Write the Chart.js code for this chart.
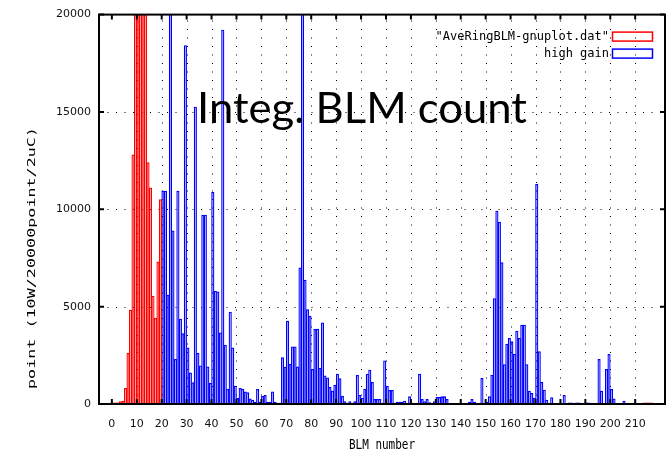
<!DOCTYPE html>
<html>
<head>
<meta charset="utf-8">
<title>Integ. BLM count</title>
<script src="https://cdn.jsdelivr.net/npm/chart.js@4.4.1/dist/chart.umd.min.js"></script>
<style>
  html, body { margin: 0; padding: 0; background: #fff; }
  canvas { display: block; }
</style>
</head>
<body>
<canvas id="blmChart" width="671" height="452"></canvas>
<script>
// Integrated BLM counts per BLM number
const redLabel = '"AveRingBLM-gnuplot.dat"';
const blueLabel = 'high gain';

// red file: BLM 0..19, plus the flat tail at the right end
const redStart = 0;
const redValues = [60, 60, 60, 120, 150, 800, 2600, 4820, 12800, 25000,
                   25000, 25000, 25000, 25000, 12400, 11100, 5540, 4400, 7300, 10500];
const redTailStart = 213;
const redTail = [60, 60, 60, 60];

// high gain: BLM 20..212
const blueStart = 20;
const blueValues = [
  10940, 10940, 5590, 25000, 8890, 2290, 10940, 4360, 3620, 18410,   // 20-29
  2890, 1600, 1100, 15250, 2600, 1960, 9700, 9700, 1915, 1060,       // 30-39
  10870, 5800, 5760, 3660, 19210, 3030, 750, 4720, 2890, 920,        // 40-49
  290, 800, 750, 630, 590, 260, 200, 100, 750, 100,                  // 50-59
  400, 450, 100, 100, 630, 100, 50, 50, 2390, 1900,                  // 60-69
  4260, 2050, 2940, 2940, 1915, 6990, 25000, 6360, 4850, 4520,       // 70-79
  1780, 3830, 3850, 1850, 4170, 1450, 1350, 855, 680, 970,           // 80-89
  1540, 1300, 410, 130, 30, 130, 30, 130, 1470, 440,                 // 90-99
  300, 770, 1540, 1740, 1110, 240, 240, 240, 50, 2220,               // 100-109
  920, 700, 700, 50, 100, 100, 100, 150, 40, 375,                    // 110-119
  50, 50, 50, 1540, 240, 120, 240, 70, 20, 120,                      // 120-129
  340, 340, 375, 375, 240, 30, 30, 30, 20, 20,                       // 130-139
  30, 30, 20, 100, 240, 100, 20, 20, 1320, 20,                       // 140-149
  100, 380, 1490, 5420, 9910, 9350, 7260, 2030, 3080, 3370,          // 150-159
  3200, 2550, 3740, 3370, 4050, 4050, 2030, 670, 550, 300,           // 160-169
  11280, 2690, 1110, 720, 200, 20, 330, 40, 40, 40,                  // 170-179
  40, 445, 40, 60, 60, 40, 60, 60, 40, 40,                           // 180-189
  60, 60, 40, 40, 40, 2290, 670, 40, 1780, 2550,                     // 190-199
  750, 270, 40, 40, 40, 150, 50, 20, 20, 20,                         // 200-209
  40, 40, 40                                                         // 210-212
];

const xMin = 0;
const xMax = 216.8;
const xStep = 10;
const yMin = 0;
const yMax = 20000;
const yStep = 5000;

const xTitle = 'BLM number';
const yTitle = 'point (10W/20000point/2uC)';
const overlayText = 'Integ. BLM count';

// gnuplot boxes span [n, n+1]
function toPoints(start, values) {
    return values.map((v, i) => ({ x: start + i + 0.5, y: v }));
}

const monoFont = '"DejaVu Sans Mono", monospace';

const gnuplotLook = {
    id: 'gnuplotLook',
    beforeDatasetsDraw(chart) {
        const { ctx, chartArea: a, scales: { x, y } } = chart;
        ctx.save();
        ctx.strokeStyle = '#000';
        ctx.lineWidth = 1;
        ctx.setLineDash([1, 7.5]);
        // dotted grid
        x.ticks.forEach(t => {
            if (t.value <= x.min || t.value >= x.max) return;
            const px = Math.round(x.getPixelForValue(t.value)) + 0.5;
            ctx.beginPath();
            ctx.moveTo(px, a.bottom);
            ctx.lineTo(px, a.top);
            ctx.stroke();
        });
        y.ticks.forEach(t => {
            if (t.value <= y.min || t.value >= y.max) return;
            const py = Math.round(y.getPixelForValue(t.value)) + 0.5;
            ctx.beginPath();
            ctx.moveTo(a.left, py);
            ctx.lineTo(a.right, py);
            ctx.stroke();
        });
        ctx.restore();
    },
    afterDatasetsDraw(chart) {
        const { ctx, chartArea: a, scales: { x, y } } = chart;
        ctx.save();

        // frame
        ctx.strokeStyle = '#000';
        ctx.lineWidth = 2;
        ctx.strokeRect(a.left, a.top, a.right - a.left, a.bottom - a.top);

        // inward tick marks on all four sides
        ctx.lineWidth = 2;
        x.ticks.forEach(t => {
            const px = x.getPixelForValue(t.value);
            ctx.beginPath();
            ctx.moveTo(px, a.bottom); ctx.lineTo(px, a.bottom - 5);
            ctx.moveTo(px, a.top); ctx.lineTo(px, a.top + 5);
            ctx.stroke();
        });
        y.ticks.forEach(t => {
            const py = y.getPixelForValue(t.value);
            ctx.beginPath();
            ctx.moveTo(a.left, py); ctx.lineTo(a.left + 5, py);
            ctx.moveTo(a.right, py); ctx.lineTo(a.right - 5, py);
            ctx.stroke();
        });

        // key, top right inside the plot
        ctx.font = '12px ' + monoFont;
        ctx.textAlign = 'right';
        ctx.textBaseline = 'middle';
        chart.data.datasets.forEach((ds, i) => {
            const cy = a.top + 22 + i * 17;
            ctx.fillStyle = '#000';
            ctx.fillText(ds.label, a.right - 56, cy);
            ctx.strokeStyle = ds.borderColor;
            ctx.lineWidth = 1.5;
            ctx.strokeRect(a.right - 52.5, cy - 4.5, 40, 9);
        });

        // axis titles
        ctx.fillStyle = '#000';
        ctx.textAlign = 'center';
        ctx.textBaseline = 'middle';
        ctx.font = '11px ' + monoFont;
        ctx.save();
        ctx.translate((a.left + a.right) / 2, 445);
        ctx.scale(1, 1.3);
        ctx.fillText(xTitle, 0, 0);
        ctx.restore();

        ctx.save();
        ctx.translate(32, 258);
        ctx.rotate(-Math.PI / 2);
        const yw = ctx.measureText(yTitle).width;
        ctx.scale(262 / yw, 1);
        ctx.fillText(yTitle, 0, 0);
        ctx.restore();

        // big overlay caption
        ctx.font = '42px Lato, "Open Sans", sans-serif';
        ctx.textAlign = 'left';
        ctx.textBaseline = 'alphabetic';
        const ow = ctx.measureText(overlayText).width;
        ctx.save();
        ctx.translate(197, 123);
        ctx.scale(330 / ow, 1);
        ctx.fillStyle = '#000';
        ctx.fillText(overlayText, 0, 0);
        ctx.restore();

        ctx.restore();
    }
};

const barStyle = {
    backgroundColor: 'rgba(0,0,0,0)',
    borderWidth: 0.6,
    borderSkipped: false,
    grouped: false,
    barPercentage: 1,
    categoryPercentage: 1
};

const ctx = document.getElementById('blmChart').getContext('2d');
new Chart(ctx, {
    type: 'bar',
    data: {
        datasets: [
            {
                label: redLabel,
                data: toPoints(redStart, redValues).concat(toPoints(redTailStart, redTail)),
                borderColor: '#ff0000',
                ...barStyle
            },
            {
                label: blueLabel,
                data: toPoints(blueStart, blueValues),
                borderColor: '#0000ff',
                ...barStyle
            }
        ]
    },
    options: {
        responsive: false,
        animation: false,
        layout: { padding: { left: 0, right: 6, top: 14, bottom: 0 } },
        plugins: {
            legend: { display: false },
            tooltip: { enabled: false }
        },
        scales: {
            x: {
                type: 'linear',
                min: xMin,
                max: xMax,
                grid: { display: false, drawTicks: false },
                border: { display: false },
                ticks: {
                    stepSize: xStep,
                    includeBounds: false,
                    autoSkip: false,
                    maxRotation: 0,
                    padding: 14,
                    color: '#111',
                    font: { family: 'DejaVu Sans', size: 11 },
                    callback: v => String(v)
                },
                afterFit(scale) { scale.height = 48; }
            },
            y: {
                min: yMin,
                max: yMax,
                grid: { display: false, drawTicks: false },
                border: { display: false },
                ticks: {
                    stepSize: yStep,
                    padding: 8,
                    color: '#111',
                    font: { family: 'DejaVu Sans', size: 11 },
                    callback: v => String(v)
                },
                afterFit(scale) { scale.width = 99; }
            }
        }
    },
    plugins: [gnuplotLook]
});
</script>
</body>
</html>
